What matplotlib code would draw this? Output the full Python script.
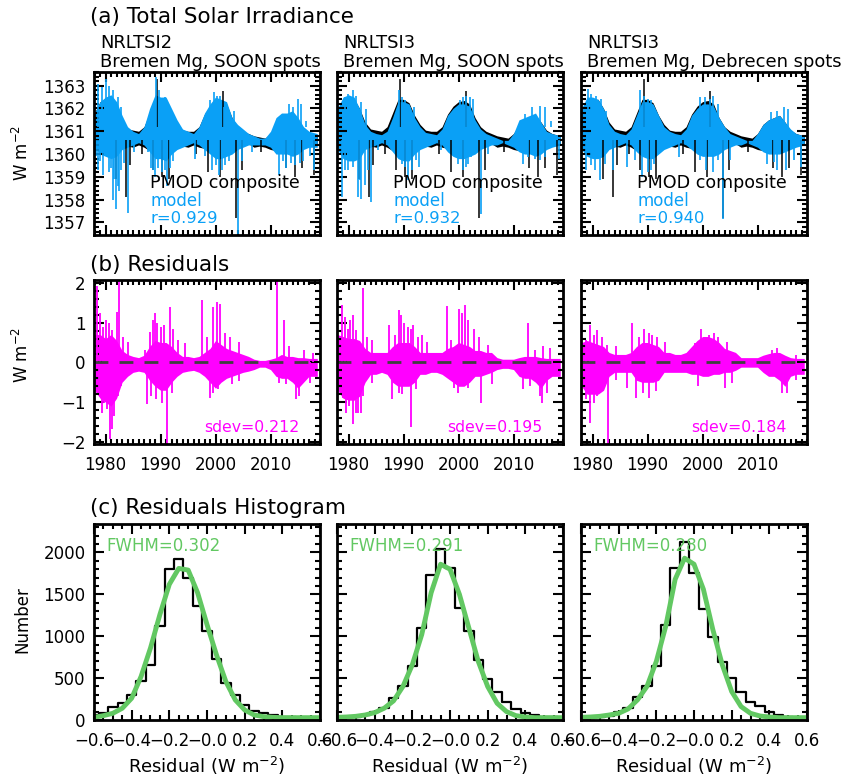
import numpy as np
import matplotlib
matplotlib.use('Agg')
import matplotlib.pyplot as plt
from matplotlib.ticker import MultipleLocator, FixedLocator, FixedFormatter, FormatStrFormatter

plt.rcParams['font.family'] = ['DejaVu Sans']

# ---------------- data ----------------
years = [1978.0, 1979.0, 1980.0, 1981.0, 1982.0, 1983.0, 1984.0, 1985.0, 1986.0, 1987.0,
         1988.0, 1989.0, 1990.0, 1991.0, 1992.0, 1993.0, 1994.0, 1995.0, 1996.0, 1997.0,
         1998.0, 1999.0, 2000.0, 2001.0, 2002.0, 2003.0, 2004.0, 2005.0, 2006.0, 2007.0,
         2008.0, 2009.0, 2010.0, 2011.0, 2012.0, 2013.0, 2014.0, 2015.0, 2016.0, 2017.0, 2018.5]

# PMOD composite (same in all three columns): typical upper / lower envelope
pmod_hi = [1361.8, 1362.3, 1362.4, 1362.4, 1362.0, 1361.4, 1361.1, 1361.05, 1361.0, 1361.2,
           1361.8, 1362.4, 1362.4, 1362.25, 1361.7, 1361.3, 1361.05, 1361.0, 1361.0, 1361.2,
           1361.75, 1362.1, 1362.3, 1362.35, 1362.2, 1361.6, 1361.2, 1361.0, 1360.9, 1360.8,
           1360.75, 1360.7, 1360.9, 1361.3, 1361.5, 1361.6, 1361.7, 1361.4, 1361.05, 1360.9,
           1360.8]
pmod_lo = [1360.35, 1360.05, 1359.95, 1359.85, 1359.95, 1360.25, 1360.35, 1360.3, 1360.4,
           1360.3, 1360.15, 1359.95, 1359.85, 1359.85, 1360.05, 1360.25, 1360.35, 1360.3,
           1360.4, 1360.3, 1360.25, 1360.05, 1359.95, 1359.95, 1359.95, 1360.05, 1360.25,
           1360.35, 1360.45, 1360.3, 1360.35, 1360.3, 1360.2, 1360.15, 1360.05, 1360.05,
           1360.05, 1360.15, 1360.25, 1360.35, 1360.45]
pmod_dn_yr = [1981.9, 1983.8, 1984.4, 1986.6, 1988.6, 1990.2, 1991.5, 1996.5, 1998.6, 2000.9,
              2003.8, 2004.9, 2008.2, 2012.9, 2014.4, 2015.7, 2017.9]
pmod_dn_val = [1358.9, 1358.1, 1359.5, 1360.0, 1359.3, 1359.0, 1358.9, 1360.0, 1359.2, 1359.0,
               1357.2, 1359.3, 1360.1, 1359.4, 1359.0, 1359.4, 1359.1]
pmod_up_yr = [1989.4, 2001.4]
pmod_up_val = [1363.3, 1362.75]

# model envelopes for the three columns
model_hi = [
    [1361.8, 1362.3, 1362.5, 1362.6, 1362.3, 1361.7, 1361.2, 1361.0, 1360.9, 1361.2,
     1362.0, 1362.6, 1362.5, 1362.5, 1362.0, 1361.5, 1361.1, 1361.0, 1360.9, 1361.2,
     1361.8, 1362.2, 1362.5, 1362.4, 1362.3, 1361.6, 1361.3, 1361.1, 1360.9, 1360.8,
     1360.7, 1360.7, 1361.0, 1361.6, 1361.8, 1361.8, 1361.9, 1361.6, 1361.2, 1361.0, 1360.9],
    [1362.0, 1362.5, 1362.6, 1362.5, 1362.0, 1361.3, 1361.0, 1360.9, 1360.85, 1361.0,
     1361.6, 1362.3, 1362.3, 1362.2, 1361.6, 1361.2, 1360.95, 1360.9, 1360.85, 1361.1,
     1361.7, 1362.0, 1362.2, 1362.2, 1362.1, 1361.5, 1361.1, 1360.9, 1360.8, 1360.7,
     1360.6, 1360.6, 1360.9, 1361.5, 1361.6, 1361.7, 1361.8, 1361.4, 1361.0, 1360.9, 1360.8],
    [1362.0, 1362.5, 1362.5, 1362.4, 1362.0, 1361.3, 1361.0, 1360.9, 1360.85, 1361.1,
     1361.7, 1362.3, 1362.3, 1362.2, 1361.7, 1361.2, 1361.0, 1360.9, 1360.85, 1361.1,
     1361.7, 1362.0, 1362.2, 1362.2, 1362.1, 1361.6, 1361.2, 1360.9, 1360.8, 1360.7,
     1360.6, 1360.6, 1360.9, 1361.3, 1361.5, 1361.6, 1361.7, 1361.4, 1361.1, 1360.9, 1360.8],
]
model_lo = [
    [1360.3, 1360.0, 1359.9, 1359.8, 1359.9, 1360.2, 1360.3, 1360.4, 1360.5, 1360.4,
     1360.1, 1359.8, 1359.8, 1359.7, 1360.0, 1360.2, 1360.3, 1360.4, 1360.5, 1360.4,
     1360.2, 1360.0, 1359.8, 1359.8, 1359.9, 1360.0, 1360.2, 1360.3, 1360.4, 1360.4,
     1360.4, 1360.4, 1360.3, 1360.0, 1360.0, 1360.0, 1359.9, 1360.0, 1360.2, 1360.3, 1360.3],
    [1360.2, 1359.8, 1359.7, 1359.7, 1359.8, 1360.2, 1360.3, 1360.4, 1360.5, 1360.4,
     1360.1, 1359.8, 1359.7, 1359.7, 1360.0, 1360.2, 1360.3, 1360.4, 1360.5, 1360.4,
     1360.1, 1359.9, 1359.8, 1359.8, 1359.9, 1360.0, 1360.2, 1360.3, 1360.4, 1360.4,
     1360.5, 1360.4, 1360.3, 1360.1, 1360.0, 1360.0, 1359.9, 1360.0, 1360.2, 1360.3, 1360.4],
    [1360.2, 1359.9, 1359.8, 1359.8, 1359.9, 1360.2, 1360.3, 1360.4, 1360.5, 1360.4,
     1360.1, 1359.9, 1359.8, 1359.8, 1360.0, 1360.2, 1360.3, 1360.4, 1360.5, 1360.4,
     1360.2, 1360.0, 1359.9, 1359.9, 1359.9, 1360.0, 1360.2, 1360.3, 1360.4, 1360.4,
     1360.5, 1360.4, 1360.3, 1360.1, 1360.0, 1360.0, 1360.0, 1360.1, 1360.2, 1360.3, 1360.4],
]
model_dn_yr = [
    [1978.3, 1978.6, 1979.0, 1979.6, 1980.0, 1980.7, 1981.0, 1981.3, 1981.6, 1981.9, 1982.2,
     1982.5, 1982.9, 1983.4, 1984.0, 1985.2, 1987.7, 1988.3, 1988.6, 1989.0, 1989.5, 1990.2,
     1990.8, 1991.1, 1991.7, 1992.3, 1996.3, 1998.1, 1999.4, 2000.0, 2000.6, 2001.2, 2001.8,
     2002.4, 2004.0, 2004.9, 2006.7, 2011.6, 2012.2, 2012.8, 2013.8, 2014.4, 2015.3, 2015.9,
     2017.2, 2017.9],
    [1978.9, 1979.3, 1979.9, 1980.3, 1980.8, 1981.7, 1982.0, 1982.3, 1983.0, 1983.6, 1984.0,
     1985.4, 1987.9, 1989.1, 1989.7, 1990.3, 1990.9, 1991.6, 1992.2, 1992.8, 1996.8, 1999.9,
     2000.8, 2001.4, 2001.7, 2002.3, 2004.1, 2005.4, 2011.8, 2012.7, 2013.9, 2014.8, 2015.7,
     2018.2],
    [1978.9, 1979.8, 1980.4, 1981.3, 1982.2, 1983.8, 1986.3, 1987.8, 1989.0, 1990.0, 1990.6,
     1991.2, 1995.8, 1999.5, 2000.7, 2001.9, 2002.9, 2003.8, 2005.0, 2011.8, 2013.0, 2013.6,
     2015.2, 2016.7, 2017.9],
]
model_dn_val = [
    [1359.9, 1359.3, 1359.7, 1359.1, 1359.9, 1359.2, 1359.4, 1358.0, 1358.9, 1357.6, 1358.6,
     1358.4, 1359.3, 1359.6, 1357.4, 1360.1, 1360.1, 1359.4, 1359.3, 1359.0, 1359.4, 1359.2,
     1359.3, 1358.6, 1359.4, 1359.7, 1359.8, 1359.9, 1359.3, 1359.5, 1359.1, 1359.3, 1359.5,
     1359.7, 1356.5, 1359.7, 1360.1, 1359.1, 1359.7, 1359.4, 1359.6, 1359.5, 1359.6, 1359.7,
     1359.9, 1359.3],
    [1358.12, 1359.29, 1359.29, 1359.8, 1359.43, 1358.12, 1358.85, 1358.04, 1358.63, 1359.29,
     1357.9, 1360.16, 1360.16, 1359.87, 1359.58, 1359.43, 1358.85, 1359.29, 1359.72, 1359.43,
     1360.16, 1359.58, 1359.29, 1359.43, 1359.58, 1359.87, 1357.39, 1360.0, 1359.58, 1359.87,
     1359.8, 1359.72, 1359.87, 1359.8],
    [1359.29, 1359.51, 1359.29, 1358.85, 1359.58, 1359.29, 1359.43, 1359.72, 1359.0, 1359.22,
     1359.29, 1359.58, 1359.87, 1359.72, 1359.29, 1359.22, 1359.72, 1357.17, 1359.72, 1359.58,
     1359.65, 1359.29, 1359.29, 1359.72, 1359.43],
]
model_up_yr = [
    [1978.6, 1979.4, 1980.0, 1980.7, 1981.3, 1982.2, 1982.9, 1989.2, 1989.8, 1990.8, 1991.4,
     1999.0, 1999.7, 2000.3, 2000.9, 2001.5, 2003.3, 2012.2, 2013.4, 2014.1, 2015.0, 2015.6,
     2016.5],
    [1979.3, 1979.9, 1980.9, 1981.4, 1982.3, 1983.2, 1989.1, 1989.7, 1990.3, 1991.2, 1991.9,
     2000.2, 2000.8, 2001.4, 2002.0, 2002.6, 2012.1, 2013.3, 2014.8, 2015.7, 2016.9],
    [1979.2, 1979.8, 1980.7, 1981.6, 1982.5, 1988.7, 1989.3, 1990.0, 1990.6, 1999.5, 2000.4,
     2001.3, 2001.9, 2002.9, 2012.4, 2013.6, 2014.9, 2015.5],
]
model_up_val = [
    [1363.07, 1362.93, 1363.29, 1363.0, 1362.79, 1362.49, 1362.06, 1363.36, 1362.79, 1362.49,
     1362.2, 1362.35, 1362.71, 1362.56, 1362.56, 1362.06, 1361.9, 1361.76, 1362.2, 1362.06,
     1362.42, 1362.2, 1361.47],
    [1362.49, 1362.64, 1362.79, 1362.56, 1362.27, 1361.98, 1362.79, 1362.49, 1362.35, 1362.06,
     1362.06, 1362.35, 1362.49, 1362.56, 1362.49, 1362.42, 1361.76, 1362.06, 1362.13, 1362.06,
     1361.47],
    [1362.86, 1362.64, 1362.56, 1362.42, 1361.9, 1362.79, 1362.56, 1362.42, 1362.35, 1362.49,
     1362.49, 1362.42, 1362.56, 1362.2, 1361.84, 1361.9, 1362.06, 1361.98],
]
r_labels = ['r=0.929', 'r=0.932', 'r=0.940']
col_titles = ['NRLTSI2\nBremen Mg, SOON spots',
              'NRLTSI3\nBremen Mg, SOON spots',
              'NRLTSI3\nBremen Mg, Debrecen spots']

# residuals (PMOD - model): typical envelope and spikes
res_hi = [
    [0.7, 0.7, 0.6, 0.7, 0.55, 0.3, 0.2, 0.15, 0.12, 0.18, 0.4, 0.55, 0.5, 0.5, 0.4, 0.25, 0.15,
     0.15, 0.12, 0.15, 0.25, 0.35, 0.55, 0.45, 0.35, 0.3, 0.25, 0.2, 0.15, 0.08, 0.05, 0.05,
     0.08, 0.12, 0.2, 0.15, 0.15, 0.12, 0.12, 0.1, 0.1],
    [0.7, 0.65, 0.6, 0.6, 0.55, 0.35, 0.25, 0.25, 0.25, 0.25, 0.4, 0.5, 0.5, 0.5, 0.4, 0.25,
     0.25, 0.25, 0.25, 0.25, 0.35, 0.4, 0.5, 0.45, 0.4, 0.3, 0.3, 0.25, 0.25, 0.12, 0.08, 0.08,
     0.08, 0.12, 0.15, 0.15, 0.15, 0.12, 0.1, 0.1, 0.1],
    [0.5, 0.55, 0.5, 0.45, 0.4, 0.25, 0.2, 0.2, 0.2, 0.25, 0.4, 0.5, 0.5, 0.45, 0.4, 0.25, 0.25,
     0.2, 0.2, 0.25, 0.4, 0.55, 0.65, 0.65, 0.6, 0.5, 0.35, 0.3, 0.25, 0.12, 0.12, 0.12, 0.12,
     0.18, 0.22, 0.25, 0.25, 0.18, 0.12, 0.1, 0.1],
]
res_lo = [
    [-0.7, -0.9, -1.0, -1.1, -0.9, -0.5, -0.35, -0.25, -0.22, -0.25, -0.45, -0.6, -0.7, -0.7,
     -0.5, -0.35, -0.25, -0.22, -0.2, -0.25, -0.35, -0.5, -0.65, -0.5, -0.4, -0.35, -0.3, -0.25,
     -0.22, -0.18, -0.12, -0.12, -0.18, -0.35, -0.4, -0.4, -0.5, -0.65, -0.5, -0.35, -0.35],
    [-0.7, -0.9, -0.95, -0.95, -0.85, -0.5, -0.3, -0.3, -0.25, -0.3, -0.5, -0.6, -0.6, -0.6,
     -0.5, -0.3, -0.3, -0.25, -0.25, -0.3, -0.4, -0.5, -0.6, -0.6, -0.5, -0.35, -0.35, -0.3,
     -0.25, -0.18, -0.15, -0.15, -0.18, -0.35, -0.4, -0.4, -0.5, -0.65, -0.45, -0.35, -0.35],
    [-0.6, -0.8, -0.8, -0.8, -0.7, -0.35, -0.25, -0.25, -0.25, -0.25, -0.45, -0.5, -0.5, -0.5,
     -0.45, -0.25, -0.25, -0.25, -0.25, -0.25, -0.3, -0.3, -0.35, -0.35, -0.3, -0.3, -0.25,
     -0.25, -0.2, -0.12, -0.12, -0.12, -0.12, -0.25, -0.35, -0.35, -0.45, -0.6, -0.35, -0.3,
     -0.3],
]
res_up_yr = [
    [1978.5, 1979.0, 1979.6, 1980.0, 1980.6, 1981.2, 1982.0, 1982.5, 1983.1, 1984.0, 1987.1,
     1988.0, 1988.6, 1989.0, 1989.4, 1990.0, 1990.7, 1991.7, 1992.3, 1993.2, 1994.4, 1997.5,
     1998.4, 1999.6, 2000.2, 2000.8, 2001.7, 2002.6, 2004.2, 2011.2, 2012.4, 2013.4, 2016.1,
     2017.7],
    [1978.9, 1979.3, 1979.9, 1980.3, 1980.8, 1981.4, 1982.7, 1983.3, 1984.2, 1987.3, 1988.5,
     1989.1, 1989.6, 1990.0, 1990.8, 1991.3, 1991.8, 1992.6, 1993.4, 1994.3, 1997.9, 1998.6,
     2000.1, 2000.6, 2001.1, 2001.7, 2002.9, 2003.8, 2005.4, 2012.6, 2013.9, 2015.4, 2016.6],
    [1978.9, 1979.6, 1980.2, 1980.8, 1981.7, 1982.6, 1984.2, 1987.2, 1988.5, 1989.4, 1990.3,
     1990.9, 1991.8, 1993.1, 1998.6, 1999.8, 2001.1, 2002.0, 2002.9, 2004.5, 2012.7, 2013.6,
     2017.0],
]
res_up_val = [
    [1.93, 1.23, 0.89, 1.06, 0.98, 0.81, 1.27, 2.1, 0.65, 0.52, 0.32, 0.77, 1.06, 1.23, 0.98,
     0.89, 0.94, 1.39, 0.85, 0.56, 0.48, 1.57, 0.65, 1.39, 1.51, 1.47, 0.73, 0.65, 0.52, 2.1,
     1.06, 0.40, 0.32, 0.23],
    [1.43, 1.14, 0.85, 1.06, 1.18, 0.81, 1.87, 0.65, 0.56, 0.94, 0.69, 1.31, 1.18, 0.98, 0.89,
     0.85, 0.94, 0.65, 0.69, 0.52, 1.41, 0.56, 1.35, 1.23, 1.45, 1.06, 0.85, 0.65, 0.44, 0.98,
     0.32, 0.40, 0.36],
    [0.56, 0.94, 0.69, 0.81, 0.65, 0.44, 0.40, 0.98, 0.65, 0.85, 0.73, 0.69, 0.65, 0.52, 0.48,
     0.85, 0.69, 0.73, 0.65, 0.52, 0.32, 0.36, 0.19],
]
res_dn_yr = [
    [1978.8, 1979.4, 1979.8, 1980.3, 1980.8, 1981.1, 1981.6, 1982.2, 1982.8, 1987.6, 1988.3,
     1989.2, 1990.2, 1991.1, 1992.0, 1999.0, 1999.6, 2000.5, 2003.0, 2004.2, 2011.5, 2012.8,
     2014.6, 2015.2, 2017.1],
    [1979.0, 1979.6, 1980.1, 1980.8, 1981.3, 1981.7, 1982.2, 1982.7, 1984.2, 1987.9, 1989.1,
     1989.7, 1991.3, 1992.2, 1999.2, 1999.9, 2001.7, 2004.1, 2006.0, 2011.8, 2013.0, 2014.9,
     2015.2, 2016.1],
    [1978.9, 1979.6, 1980.2, 1980.8, 1982.9, 1984.2, 1986.3, 1987.9, 1989.1, 1990.3, 1991.6,
     1999.2, 2004.1, 2005.3, 2014.5, 2015.4, 2017.0],
]
res_dn_val = [
    [-0.76, -1.26, -1.01, -1.17, -1.92, -1.67, -1.34, -0.84, -0.6, -1.05, -0.84, -0.93, -1.01,
     -2.1, -0.76, -0.89, -0.76, -0.68, -0.55, -0.47, -0.51, -0.55, -0.93, -0.84, -0.51],
    [-0.89, -1.26, -1.09, -1.55, -1.26, -1.26, -1.27, -0.84, -0.51, -0.93, -0.76, -0.80, -1.63,
     -0.68, -0.64, -0.76, -0.64, -1.01, -0.55, -0.68, -0.6, -0.84, -1.01, -0.76],
    [-0.93, -1.51, -1.01, -0.84, -2.1, -0.43, -0.64, -0.89, -0.76, -0.89, -0.72, -0.6, -0.64,
     -0.51, -0.76, -0.76, -0.43],
]
sdev_labels = ['sdev=0.212', 'sdev=0.195', 'sdev=0.184']

# residual histograms
hist_centers = [-0.60, -0.55, -0.50, -0.45, -0.40, -0.35, -0.30, -0.25, -0.20, -0.15, -0.10,
                -0.05, 0.00, 0.05, 0.10, 0.15, 0.20, 0.25, 0.30, 0.35, 0.40, 0.45, 0.50, 0.55,
                0.60]
hist_counts = [
    [60, 88, 160, 208, 300, 468, 660, 1120, 1800, 1920, 1700, 1360, 1060, 732, 440, 300, 180,
     108, 80, 60, 40, 32, 28, 24, 20],
    [28, 32, 40, 60, 100, 148, 260, 400, 640, 1100, 1732, 2040, 1812, 1340, 1060, 720, 492,
     332, 220, 132, 80, 60, 40, 32, 28],
    [28, 28, 32, 52, 100, 148, 280, 408, 640, 1132, 1820, 2120, 1760, 1320, 992, 692, 500,
     332, 220, 172, 100, 60, 40, 28, 28],
]
hist_fit = [
    [32, 52, 80, 140, 260, 520, 860, 1260, 1620, 1810, 1790, 1520, 1140, 780, 460, 240, 120,
     60, 40, 32, 28, 28, 28, 28, 28],
    [32, 36, 44, 60, 88, 140, 228, 400, 660, 1020, 1520, 1860, 1800, 1500, 1100, 700, 400,
     200, 100, 52, 36, 28, 28, 28, 28],
    [32, 36, 44, 60, 80, 132, 240, 400, 700, 1120, 1680, 1932, 1860, 1560, 1080, 660, 340,
     160, 80, 48, 36, 28, 28, 28, 28],
]
fwhm_labels = ['FWHM=0.302', 'FWHM=0.291', 'FWHM=0.280']
hist_xticks = [-0.6, -0.4, -0.2, 0.0, 0.2, 0.4, 0.6]
hist_xticklabels = ['\u22120.6', '\u22120.4', '\u22120.2', '\u22120.0', '0.2', '0.4', '0.6']

# ---------------- styling ----------------
BLUE = '#0AA0F6'
MAGENTA = '#FF00FF'
GREEN = '#62C862'
FS = 12

W, H = 856, 780
fig = plt.figure(figsize=(W / 100, H / 100), dpi=100)

col_x = [94, 337, 581]
col_w = 226
rows = {'a': (72, 235), 'b': (280, 444), 'c': (524, 720)}


def make_ax(col, row):
    top, bot = rows[row]
    return fig.add_axes([col_x[col] / W, 1 - bot / H, col_w / W, (bot - top) / H])


def style(ax):
    for s in ax.spines.values():
        s.set_linewidth(2.0)
        s.set_zorder(5)
    ax.tick_params(which='both', direction='in', top=True, right=True, width=1.5,
                   labelsize=FS, colors='black')
    ax.tick_params(which='major', length=7, pad=6)
    ax.tick_params(which='minor', length=3.5)


yrs = np.array(years)
for c in range(3):
    # ---- (a) TSI ----
    ax = make_ax(c, 'a')
    ax.fill_between(yrs, pmod_lo, pmod_hi, color='black', lw=0)
    ax.vlines(pmod_dn_yr, pmod_dn_val, 1360.6, color='black', lw=1.1)
    ax.vlines(pmod_up_yr, 1361.2, pmod_up_val, color='black', lw=1.1)
    ax.fill_between(yrs, model_lo[c], model_hi[c], color=BLUE, lw=0)
    ax.vlines(model_dn_yr[c], model_dn_val[c], 1360.6, color=BLUE, lw=1.2)
    ax.vlines(model_up_yr[c], 1361.2, model_up_val[c], color=BLUE, lw=1.2)
    ax.set_xlim(1977.9, 2019.0)
    ax.set_ylim(1356.45, 1363.6)
    ax.xaxis.set_major_locator(MultipleLocator(10))
    ax.xaxis.set_minor_locator(MultipleLocator(1))
    ax.yaxis.set_major_locator(MultipleLocator(1))
    ax.yaxis.set_minor_locator(MultipleLocator(0.2))
    style(ax)
    ax.set_xticklabels([])
    if c == 0:
        ax.yaxis.set_major_formatter(FormatStrFormatter('%d'))
    else:
        ax.set_yticklabels([])
    ax.text(0.248, 0.32, 'PMOD composite', transform=ax.transAxes, fontsize=12.6,
            color='black', va='center', ha='left')
    ax.text(0.248, 0.21, 'model', transform=ax.transAxes, fontsize=FS, color=BLUE,
            va='center', ha='left')
    ax.text(0.248, 0.104, r_labels[c], transform=ax.transAxes, fontsize=11.8, color=BLUE,
            va='center', ha='left')
    fig.text((col_x[c] + 6) / W, 1 - 34 / H, col_titles[c], fontsize=12.9, va='top',
             ha='left', linespacing=1.1)

    # ---- (b) residuals ----
    ax = make_ax(c, 'b')
    ax.fill_between(yrs, res_lo[c], res_hi[c], color=MAGENTA, lw=0)
    ax.vlines(res_up_yr[c], 0, res_up_val[c], color=MAGENTA, lw=1.3)
    ax.vlines(res_dn_yr[c], res_dn_val[c], 0, color=MAGENTA, lw=1.3)
    ax.axhline(0, color='#404040', lw=2, ls=(0, (5, 4)))
    ax.set_xlim(1977.9, 2019.0)
    ax.set_ylim(-2.05, 2.07)
    ax.xaxis.set_major_locator(MultipleLocator(10))
    ax.xaxis.set_minor_locator(MultipleLocator(1))
    ax.yaxis.set_major_locator(MultipleLocator(1))
    ax.yaxis.set_minor_locator(MultipleLocator(0.2))
    style(ax)
    ax.tick_params(axis='x', pad=9)
    if c != 0:
        ax.set_yticklabels([])
    ax.text(0.91, 0.10, sdev_labels[c], transform=ax.transAxes, fontsize=11.3, color=MAGENTA,
            va='center', ha='right')

    # ---- (c) histograms ----
    ax = make_ax(c, 'c')
    ax.step(hist_centers, hist_counts[c], where='mid', color='black', lw=1.6)
    ax.plot(hist_centers, hist_fit[c], color=GREEN, lw=3.5)
    ax.set_xlim(-0.6, 0.6)
    ax.set_ylim(0, 2340)
    ax.xaxis.set_major_locator(FixedLocator(hist_xticks))
    ax.xaxis.set_major_formatter(FixedFormatter(hist_xticklabels))
    ax.xaxis.set_minor_locator(MultipleLocator(0.05))
    ax.yaxis.set_major_locator(MultipleLocator(500))
    ax.yaxis.set_minor_locator(MultipleLocator(100))
    style(ax)
    ax.tick_params(axis='x', pad=9)
    if c != 0:
        ax.set_yticklabels([])
    ax.set_xlabel('Residual (W m$^{-2}$)', fontsize=13, labelpad=3)
    ax.text(0.053, 0.89, fwhm_labels[c], transform=ax.transAxes, fontsize=12,
            color=GREEN, va='center', ha='left')

# panel headings and y labels
fig.text(90 / W, 1 - 17 / H, '(a) Total Solar Irradiance', fontsize=15.5, va='center', ha='left')
fig.text(90 / W, 1 - 265 / H, '(b) Residuals', fontsize=15.5, va='center', ha='left')
fig.text(90 / W, 1 - 508 / H, '(c) Residuals Histogram', fontsize=15.5, va='center', ha='left')
fig.text(22 / W, 1 - 153 / H, 'W m$^{-2}$', fontsize=FS, rotation=90, va='center', ha='center')
fig.text(22 / W, 1 - 355 / H, 'W m$^{-2}$', fontsize=FS, rotation=90, va='center', ha='center')
fig.text(22 / W, 1 - 620 / H, 'Number', fontsize=FS, rotation=90, va='center', ha='center')

fig.savefig('out.png', dpi=100)
